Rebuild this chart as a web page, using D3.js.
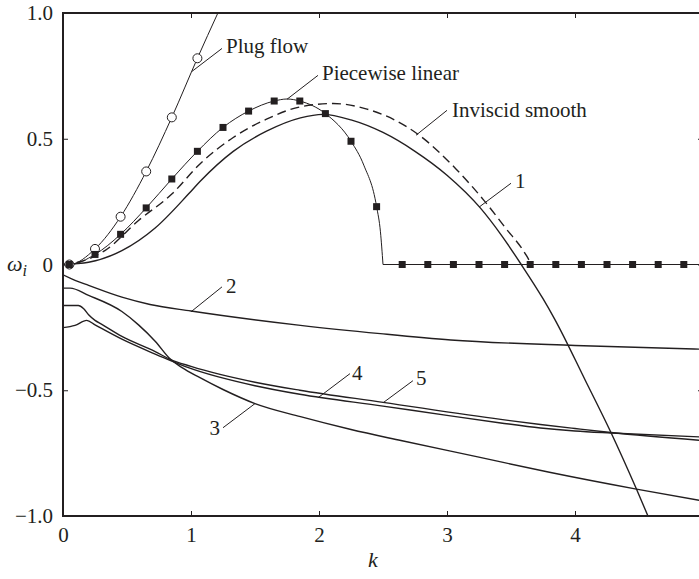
<!DOCTYPE html>
<html lang="en">

<head>
    <meta charset="UTF-8">
    <title>Growth rate vs wavenumber</title>
    <script src="https://d3js.org/d3.v7.min.js"></script>
    <style>
        body {
            margin: 0;
            background: #fff;
        }

        .curve {
            fill: none;
            stroke: #231f20;
        }
    </style>
</head>

<body>
    <svg width="699" height="579"></svg>

    <script>
        const SERIF = "'Liberation Serif', 'Times New Roman', 'DejaVu Serif', serif";

        // tick labels
        const xTicks = [0, 1, 2, 3, 4, 5];
        const xTickLabels = ["0", "1", "2", "3", "4", "5"];
        const yTicks = [-1, -0.5, 0, 0.5, 1];
        const yTickLabels = ["\u22121.0", "\u22120.5", "0", "0.5", "1.0"];

        // plug flow (open circles)
        const plugK = [0, 0.05, 0.25, 0.45, 0.65, 0.85, 1.05, 1.21];
        const plugW = [0, 0, 0.062, 0.19, 0.37, 0.585, 0.82, 1.0];
        const plugMarkK = [0.05, 0.25, 0.45, 0.65, 0.85, 1.05];
        const plugMarkW = [0, 0.062, 0.19, 0.37, 0.585, 0.82];

        // piecewise linear (filled squares)
        const pwK = [0, 0.05, 0.25, 0.45, 0.65, 0.85, 1.05, 1.25, 1.45, 1.65, 1.75, 1.85, 2.05, 2.25, 2.35, 2.45, 2.48, 2.5];
        const pwW = [0, 0, 0.04, 0.12, 0.225, 0.34, 0.45, 0.545, 0.61, 0.65, 0.658, 0.65, 0.60, 0.49, 0.395, 0.23, 0.13, 0];
        const pwFlatK = [2.5, 5];
        const pwFlatW = [0, 0];
        const pwMarkK = [0.05, 0.25, 0.45, 0.65, 0.85, 1.05, 1.25, 1.45, 1.65, 1.85, 2.05, 2.25, 2.45,
            2.65, 2.85, 3.05, 3.25, 3.45, 3.65, 3.85, 4.05, 4.25, 4.45, 4.65, 4.85];
        const pwMarkW = [0, 0.04, 0.12, 0.225, 0.34, 0.45, 0.545, 0.61, 0.65, 0.65, 0.60, 0.49, 0.23,
            0, 0, 0, 0, 0, 0, 0, 0, 0, 0, 0, 0];

        // inviscid smooth (dashed)
        const invK = [0, 0.2, 0.33, 0.59, 0.85, 1.07, 1.33, 1.59, 1.855, 2.11, 2.375, 2.77, 3.07, 3.29, 3.45, 3.62, 3.66];
        const invW = [0, 0.022, 0.056, 0.175, 0.28, 0.40, 0.505, 0.578, 0.627, 0.64, 0.618, 0.519, 0.38, 0.254, 0.15, 0.036, 0];

        // mode 1 (solid)
        const m1K = [0, 0.2, 0.46, 0.72, 0.98, 1.07, 1.33, 1.59, 1.855, 2.03, 2.25, 2.5, 2.75, 3.0, 3.26, 3.42, 3.58, 3.75, 3.84, 4.08, 4.28, 4.48, 4.57];
        const m1W = [0, 0.009, 0.055, 0.145, 0.28, 0.33, 0.45, 0.53, 0.583, 0.597, 0.575, 0.525, 0.45, 0.355, 0.225, 0.12, 0, -0.136, -0.216, -0.46, -0.667, -0.893, -1.0];

        // mode 2
        const m2K = [0, 0.094, 0.2, 0.46, 0.68, 1.0, 1.855, 2.48, 3.03, 4.0, 5.0];
        const m2W = [-0.041, -0.063, -0.083, -0.13, -0.159, -0.185, -0.242, -0.275, -0.30, -0.322, -0.337];

        // mode 3
        const m3K = [0, 0.055, 0.2, 0.46, 0.59, 0.72, 0.836, 0.93, 1.07, 1.25, 1.5, 1.855, 2.25, 2.64, 3.24, 3.8, 4.48, 5.0];
        const m3W = [-0.094, -0.094, -0.123, -0.187, -0.24, -0.305, -0.375, -0.41, -0.45, -0.497, -0.553, -0.605, -0.656, -0.70, -0.765, -0.826, -0.893, -0.94];

        // mode 4
        const m4K = [0, 0.094, 0.185, 0.25, 0.46, 0.72, 0.836, 0.98, 1.5, 1.85, 2.5, 3.0, 3.42, 3.73, 4.0, 4.28, 5.0];
        const m4W = [-0.251, -0.242, -0.222, -0.24, -0.297, -0.356, -0.381, -0.41, -0.482, -0.516, -0.563, -0.600, -0.630, -0.650, -0.662, -0.670, -0.686];

        // mode 5
        const m5K = [0, 0.12, 0.16, 0.2, 0.25, 0.3, 0.46, 0.72, 0.836, 1.0, 1.5, 1.85, 2.5, 3.42, 3.73, 4.0, 4.28, 5.0];
        const m5W = [-0.163, -0.163, -0.175, -0.2, -0.222, -0.237, -0.286, -0.346, -0.377, -0.405, -0.468, -0.50, -0.548, -0.616, -0.636, -0.652, -0.668, -0.70];

        // labels with leader lines: [text, k1, w1, k2, w2, dx, dy, anchor]
        const notes = [
            ["Plug flow", 1.008, 0.768, 1.242, 0.859, 4, 5, "start"],
            ["Piecewise linear", 1.75, 0.657, 1.992, 0.752, 4, 5, "start"],
            ["Inviscid smooth", 2.758, 0.514, 3.0, 0.613, 5, 7, "start"],
            ["1", 3.25, 0.228, 3.5, 0.323, 4, 5, "start"],
            ["2", 1.0, -0.188, 1.242, -0.089, 4, 6, "start"],
            ["3", 1.5, -0.553, 1.25, -0.649, -3, 7, "end"],
            ["4", 1.992, -0.530, 2.242, -0.434, 2, 6, "start"],
            ["5", 2.5, -0.55, 2.734, -0.462, 3, 4, "start"]
        ];

        const svg = d3.select("svg").style("font-family", SERIF);
        const margin = { left: 63, top: 13 };
        const plotW = 640, plotH = 503;

        const x = d3.scaleLinear().domain([0, 5]).range([margin.left, margin.left + plotW]);
        const y = d3.scaleLinear().domain([-1, 1]).range([margin.top + plotH, margin.top]);

        const zip = (ks, ws) => ks.map((k, i) => [k, ws[i]]);

        svg.append("clipPath").attr("id", "plot")
            .append("rect")
            .attr("x", margin.left).attr("y", margin.top)
            .attr("width", plotW).attr("height", plotH);

        const line = d3.line()
            .x(d => x(d[0]))
            .y(d => y(d[1]))
            .curve(d3.curveMonotoneX);

        const g = svg.append("g").attr("clip-path", "url(#plot)");

        g.append("path").attr("class", "curve").attr("d", line(zip(plugK, plugW))).attr("stroke-width", 1);
        g.append("path").attr("class", "curve").attr("d", line(zip(pwK, pwW))).attr("stroke-width", 1);
        g.append("path").attr("class", "curve").attr("d", line(zip(pwFlatK, pwFlatW))).attr("stroke-width", 1);
        g.append("path").attr("class", "curve").attr("d", line(zip(invK, invW)))
            .attr("stroke-width", 1.4).attr("stroke-dasharray", "9,5");

        [[m1K, m1W], [m2K, m2W], [m3K, m3W], [m4K, m4W], [m5K, m5W]].forEach(([ks, ws]) => {
            g.append("path").attr("class", "curve").attr("d", line(zip(ks, ws))).attr("stroke-width", 1.4);
        });

        // markers
        g.selectAll(".circ")
            .data(zip(plugMarkK, plugMarkW))
            .enter().append("circle")
            .attr("class", "circ")
            .attr("cx", d => x(d[0]))
            .attr("cy", d => y(d[1]))
            .attr("r", 4.5)
            .attr("fill", "#fff")
            .attr("stroke", "#231f20")
            .attr("stroke-width", 1);

        g.selectAll(".sq")
            .data(zip(pwMarkK, pwMarkW))
            .enter().append("rect")
            .attr("class", "sq")
            .attr("x", d => x(d[0]) - 3.5)
            .attr("y", d => y(d[1]) - 3.5)
            .attr("width", 7)
            .attr("height", 7)
            .attr("fill", "#231f20");

        // leader lines and labels
        notes.forEach(n => {
            svg.append("line")
                .attr("x1", x(n[1])).attr("y1", y(n[2]))
                .attr("x2", x(n[3])).attr("y2", y(n[4]))
                .attr("stroke", "#231f20").attr("stroke-width", 1);
            svg.append("text")
                .attr("x", x(n[3]) + n[5])
                .attr("y", y(n[4]) + n[6])
                .attr("text-anchor", n[7])
                .style("font-family", SERIF)
                .style("font-size", "21px")
                .style("fill", "#231f20")
                .text(n[0]);
        });

        // axes, ticks inward
        svg.append("g").attr("class", "axis")
            .attr("transform", `translate(0,${margin.top + plotH})`)
            .call(d3.axisBottom(x).tickValues(xTicks).tickSize(-5).tickPadding(11)
                .tickFormat((d, i) => xTickLabels[i]));

        svg.append("g").attr("class", "axis")
            .attr("transform", `translate(${margin.left},0)`)
            .call(d3.axisLeft(y).tickValues(yTicks).tickSize(-5).tickPadding(10)
                .tickFormat((d, i) => yTickLabels[i]));

        svg.append("g").attr("class", "axis")
            .attr("transform", `translate(0,${margin.top})`)
            .call(d3.axisTop(x).tickValues(xTicks).tickSize(-5).tickFormat(""));

        svg.append("g").attr("class", "axis")
            .attr("transform", `translate(${margin.left + plotW},0)`)
            .call(d3.axisRight(y).tickValues(yTicks).tickSize(-5).tickFormat(""));

        svg.selectAll(".axis").attr("font-family", null).attr("font-size", null);
        svg.selectAll(".axis .domain").remove();
        svg.selectAll(".axis line").attr("stroke", "#231f20").attr("stroke-width", 1);
        svg.selectAll(".axis text")
            .style("font-family", SERIF)
            .style("font-size", "21px")
            .style("fill", "#231f20");

        svg.append("rect")
            .attr("x", margin.left).attr("y", margin.top)
            .attr("width", plotW).attr("height", plotH)
            .attr("fill", "none")
            .attr("stroke", "#231f20")
            .attr("stroke-width", 2);

        // axis titles
        svg.append("text")
            .attr("x", 373).attr("y", 567)
            .attr("text-anchor", "middle")
            .style("font-family", SERIF)
            .style("font-size", "22px")
            .style("font-style", "italic")
            .style("fill", "#231f20")
            .text("k");

        const wl = svg.append("text")
            .attr("x", 7).attr("y", 271)
            .style("font-family", SERIF)
            .style("font-size", "22px")
            .style("font-style", "italic")
            .style("fill", "#231f20");
        wl.append("tspan").text("\u03c9");
        wl.append("tspan").attr("dy", 5).style("font-size", "16px").text("i");
    </script>
</body>

</html>
